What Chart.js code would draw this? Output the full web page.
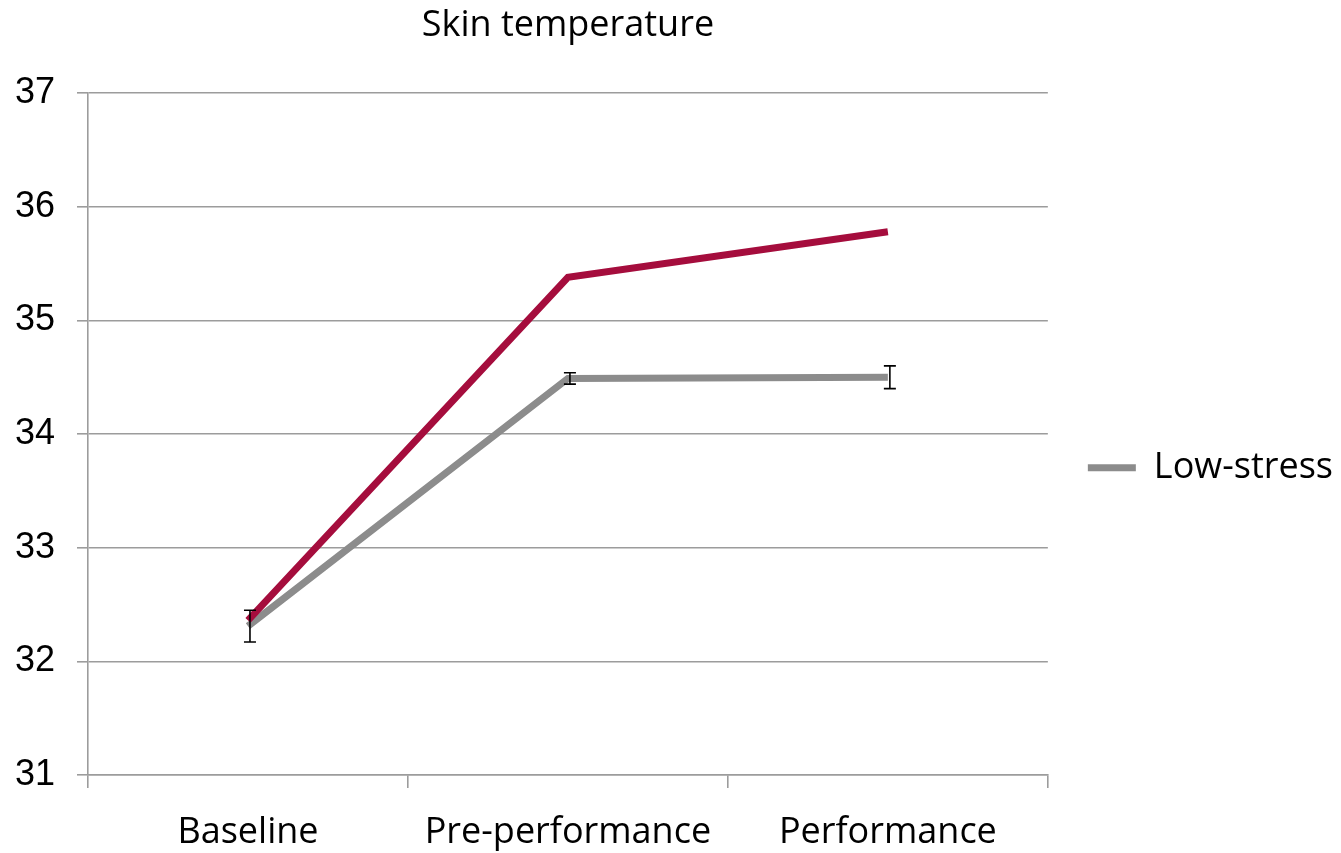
<!DOCTYPE html>
<html>
<head>
<meta charset="utf-8">
<title>Skin temperature</title>
<script src="https://cdn.jsdelivr.net/npm/chart.js@4.4.1/dist/chart.umd.min.js"></script>
<style>
  html, body { margin: 0; padding: 0; background: #ffffff; }
  #wrap { width: 1341px; height: 853px; }
</style>
</head>
<body>
<div id="wrap"><canvas id="chart" width="1341" height="853"></canvas></div>
<script>
// Measurement phases on the x axis
const phases = ['Baseline', 'Pre-performance', 'Performance'];

// Mean skin temperature (°C) for each group
const highStress = [32.36, 35.38, 35.78];
const lowStress = [32.31, 34.49, 34.50];

// Half-length of the error bars on the low-stress series
const lowStressErr = [0.14, 0.05, 0.10];

// Value axis range and tick step
const yMin = 31;
const yMax = 37;
const yStep = 1;

const GRID = '#9c9c9c';
const LABEL_FONT = "'Open Sans', 'Liberation Sans', sans-serif";
const TICK_FONT = "'Liberation Sans', Arial, sans-serif";

// Draws vertical error bars with caps for the low-stress series
const errorBars = {
  id: 'errorBars',
  afterDatasetsDraw(chart) {
    const meta = chart.getDatasetMeta(1);
    if (meta.hidden) return;
    const xs = chart.scales.x;
    const ys = chart.scales.y;
    const ctx = chart.ctx;
    ctx.save();
    ctx.strokeStyle = '#000000';
    ctx.lineWidth = 1.6;
    const cap = 6;
    lowStress.forEach((v, i) => {
      const x = xs.getPixelForValue(i) + 2;
      const yTop = ys.getPixelForValue(v + lowStressErr[i]);
      const yBot = ys.getPixelForValue(v - lowStressErr[i]);
      ctx.beginPath();
      ctx.moveTo(x, yTop); ctx.lineTo(x, yBot);
      ctx.moveTo(x - cap, yTop); ctx.lineTo(x + cap, yTop);
      ctx.moveTo(x - cap, yBot); ctx.lineTo(x + cap, yBot);
      ctx.stroke();
    });
    ctx.restore();
  }
};

new Chart(document.getElementById('chart'), {
  type: 'line',
  data: {
    labels: phases,
    datasets: [
      {
        label: 'High-stress',
        data: highStress,
        borderColor: '#a50d3d',
        backgroundColor: '#a50d3d',
        borderWidth: 7,
        pointRadius: 0,
        tension: 0
      },
      {
        label: 'Low-stress',
        data: lowStress,
        borderColor: '#8c8c8c',
        backgroundColor: '#8c8c8c',
        borderWidth: 7,
        pointRadius: 0,
        tension: 0
      }
    ]
  },
  options: {
    responsive: false,
    animation: false,
    layout: { padding: { left: 15, right: -2, top: 0, bottom: 2 } },
    plugins: {
      title: {
        display: true,
        text: 'Skin temperature',
        fullSize: false,
        color: '#000000',
        font: { family: LABEL_FONT, size: 36, weight: 'normal' },
        padding: { top: 4, bottom: 46 }
      },
      legend: {
        position: 'right',
        align: 'center',
        // empty heading only used to push the single entry down a little
        title: { display: true, text: ' ', font: { size: 12 }, padding: { top: 0, bottom: 70 } },
        labels: {
          color: '#000000',
          font: { family: LABEL_FONT, size: 36 },
          usePointStyle: true,
          pointStyle: 'line',
          pointStyleWidth: 48,
          padding: 40,
          filter: (item) => item.datasetIndex === 1
        }
      },
      tooltip: { enabled: false }
    },
    scales: {
      x: {
        offset: true,
        afterFit: (scale) => { scale.height = 76; },
        grid: {
          display: true,
          offset: true,
          drawOnChartArea: false,
          drawTicks: true,
          tickLength: 13,
          color: GRID,
          lineWidth: 1.6
        },
        border: { display: true, color: GRID, width: 1.6 },
        ticks: {
          color: '#000000',
          font: { family: LABEL_FONT, size: 36 },
          padding: 23,
          maxRotation: 0,
          autoSkip: false
        }
      },
      y: {
        min: yMin,
        max: yMax,
        afterFit: (scale) => { scale.width = 73; },
        grid: {
          color: GRID,
          lineWidth: 1.6,
          tickLength: 11
        },
        border: { display: true, color: GRID, width: 1.6 },
        ticks: {
          stepSize: yStep,
          color: '#000000',
          font: { family: TICK_FONT, size: 36 },
          padding: 22
        }
      }
    }
  },
  plugins: [errorBars]
});
</script>
</body>
</html>
